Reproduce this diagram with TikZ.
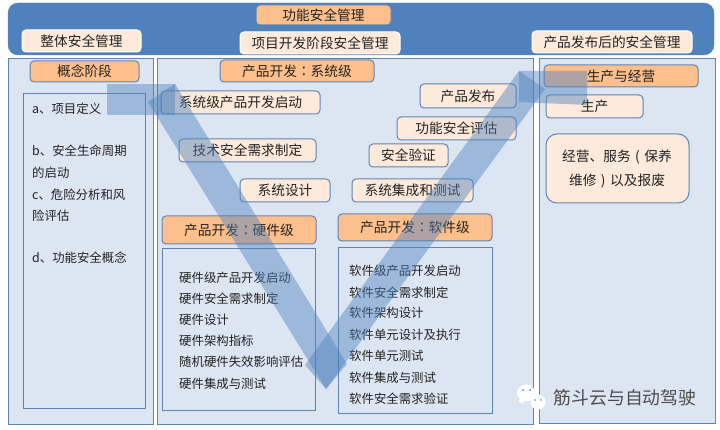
\documentclass[tikz,border=0pt]{standalone}
\usepackage{fontspec}
\setmainfont{Noto Sans CJK SC}
\newfontfamily\tcfont{Noto Sans CJK TC}
\definecolor{lineblue}{HTML}{5F84B5}
\definecolor{bandblue}{HTML}{4F81BD}
\definecolor{panelblue}{HTML}{DCE6F2}
\definecolor{boxcream}{HTML}{FDEADA}
\definecolor{headorange}{HTML}{FDC08C}
\definecolor{inktext}{HTML}{222222}
\newcommand{\midcolon}{{\tcfont ：}}
\newcommand{\thinparen}[1]{\makebox[13.7pt]{#1}}
\tikzset{
	panel/.style={draw=lineblue,fill=panelblue,line width=1pt,inner sep=0pt},
	lightbox/.style={draw=lineblue,fill=boxcream,line width=1pt,rounded corners=4pt,inner sep=0pt,text=inktext,font=\fontsize{13.7}{16}\selectfont},
	headbox/.style={lightbox,fill=headorange},
	whitebox/.style={lightbox,draw=white},
	listtext/.style={anchor=west,inner sep=0pt,text=inktext,font=\fontsize{12.4}{15}\selectfont},
	vband/.style={fill=bandblue,fill opacity=0.45}
}
\begin{document}
\begin{tikzpicture}[x=1pt,y=-1pt]
	\useasboundingbox (0,0) rectangle (720,430);
	% top band and the three panels
	\node (band) [draw=lineblue,fill=bandblue,rounded corners=10pt,minimum width=706pt,minimum height=52pt,inner sep=0pt] at (361,29){};
	\node (left) [panel,minimum width=145pt,minimum height=365pt] at (80.5,241.5){};
	\node (mid) [panel,minimum width=376pt,minimum height=365pt] at (345,241.5){};
	\node (right) [panel,minimum width=176pt,minimum height=365pt] at (627,241){};
	% top row
	\node (fs) [headbox,minimum width=135pt,minimum height=20pt] at (323.5,15){功能安全管理};
	\node (whole) [whitebox,minimum width=119pt,minimum height=22pt] at (81.5,41){整体安全管理};
	\node (proj) [whitebox,minimum width=160pt,minimum height=22pt] at (320,43){项目开发阶段安全管理};
	\node (post) [whitebox,minimum width=160pt,minimum height=22pt] at (612,42){产品发布后的安全管理};
	% concept phase
	\node (concept) [headbox,minimum width=109pt,minimum height=21pt] at (84.5,71.5){概念阶段};
	\node (conbox) [panel,minimum width=122pt,minimum height=314pt] at (84,251){};
	\node (c1) [listtext] at (32,109){a、项目定义};
	\node (c2) [listtext] at (32,151){b、安全生命周期};
	\node (c3) [listtext] at (32,173){的启动};
	\node (c4) [listtext] at (32,195){c、危险分析和风};
	\node (c5) [listtext] at (32,216){险评估};
	\node (c6) [listtext] at (32,258){d、功能安全概念};
	% system level
	\node (sys) [headbox,minimum width=154pt,minimum height=22pt] at (297,71){产品开发\midcolon 系统级};
	\node (s1) [lightbox,minimum width=159pt,minimum height=23pt] at (240.5,102.5){系统级产品开发启动};
	\node (s2) [lightbox,minimum width=137pt,minimum height=23pt] at (247.5,150.5){技术安全需求制定};
	\node (s3) [lightbox,minimum width=90pt,minimum height=23pt] at (285,190.5){系统设计};
	\node (s4) [lightbox,minimum width=121pt,minimum height=23pt] at (412.5,190.5){系统集成和测试};
	\node (s5) [lightbox,minimum width=79pt,minimum height=23pt] at (408.5,155.5){安全验证};
	\node (s6) [lightbox,minimum width=119pt,minimum height=23pt] at (456.5,128.5){功能安全评估};
	\node (s7) [lightbox,minimum width=96pt,minimum height=24pt] at (468,96){产品发布};
	% hardware level
	\node (hw) [headbox,minimum width=154pt,minimum height=28pt] at (239,230){产品开发\midcolon 硬件级};
	\node (hwbox) [panel,minimum width=153pt,minimum height=161pt] at (238.5,329.5){};
	\node (h1) [listtext] at (179,278){硬件级产品开发启动};
	\node (h2) [listtext] at (179,299){硬件安全需求制定};
	\node (h3) [listtext] at (179,320){硬件设计};
	\node (h4) [listtext] at (179,341){硬件架构指标};
	\node (h5) [listtext] at (179,362){随机硬件失效影响评估};
	\node (h6) [listtext] at (179,384){硬件集成与测试};
	% software level
	\node (sw) [headbox,minimum width=154pt,minimum height=27pt] at (415,227.5){产品开发\midcolon 软件级};
	\node (swbox) [panel,minimum width=154pt,minimum height=165pt] at (415,330.5){};
	\node (w1) [listtext] at (349,271){软件级产品开发启动};
	\node (w2) [listtext] at (349,293){软件安全需求制定};
	\node (w3) [listtext] at (349,313){软件架构设计};
	\node (w4) [listtext] at (349,335){软件单元设计及执行};
	\node (w5) [listtext] at (349,356){软件单元测试};
	\node (w6) [listtext] at (349,378){软件集成与测试};
	\node (w7) [listtext] at (349,399){软件安全需求验证};
	% production
	\node (prod) [headbox,minimum width=154pt,minimum height=22pt] at (621,76){生产与经营};
	\node (p1) [lightbox,minimum width=97pt,minimum height=23pt] at (594.5,106.5){生产};
	\node (p2) [lightbox,rounded corners=11pt,minimum width=143pt,minimum height=69pt] at (617.5,168.5){};
	\node (p2a) [inner sep=0pt,text=inktext,font=\fontsize{13.7}{16}\selectfont] at (617,157){经营、服务\thinparen{(}保养};
	\node (p2b) [inner sep=0pt,text=inktext,font=\fontsize{13.7}{16}\selectfont] at (617,181){维修\thinparen{)}以及报废};
	% the V
	\fill[vband] (107,84) -- (175,84) -- (175,115) -- (107,115) -- cycle;
	\fill[vband] (148,102) -- (175,84) -- (347,364) -- (326,389) -- cycle;
	\fill[vband] (305,365) -- (519,71) -- (545,89) -- (326,389) -- cycle;
	\fill[vband] (519,71) -- (587,71) -- (587,105) -- (519,102) -- cycle;
	% watermark
	\fill[white] (526,393) ellipse (9pt and 8.5pt);
	\fill[white] (518,401) -- (522,399) -- (524,404) -- cycle;
	\fill[white] (538,402) circle (7.5pt);
	\fill[lineblue] (523,390) circle (1pt) (530,390) circle (1pt) (535,400) circle (0.8pt) (541,400) circle (0.8pt);
	\node (mark) [inner sep=0pt,text=black!70,font=\fontsize{17.8}{20}\selectfont] at (625,398){筋斗云与自动驾驶};
\end{tikzpicture}
\end{document}
